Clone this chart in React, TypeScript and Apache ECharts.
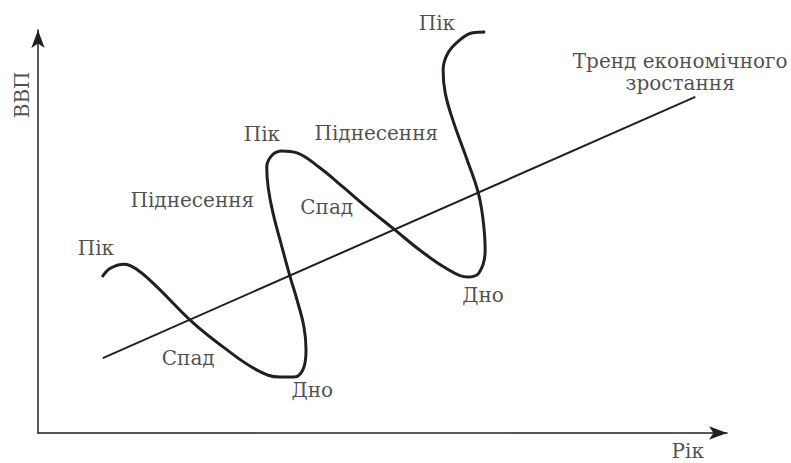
import React, { useEffect, useRef } from "react";
import * as echarts from "echarts";

// Business-cycle curve (time, GDP) in arbitrary units
const cycleX = [9.3, 10.5, 12.5, 14.5, 17.3, 22.4, 26.9, 31.8, 35.1, 37.2, 38.5, 38.9, 38.6, 37.6, 36.6, 35.4, 34.1, 33.4, 33.2, 34.0, 35.4, 37.6, 40.9, 44.3, 47.5, 51.8, 55.4, 59.4, 62.3, 64.0, 64.9, 64.6, 63.9, 62.3, 60.2, 59.1, 58.8, 59.5, 61.2, 63.1, 64.9];
const cycleY = [38.7, 40.9, 41.9, 40.4, 36.2, 27.5, 21.3, 15.6, 13.9, 13.9, 15.9, 20.6, 26.3, 33.0, 38.7, 46.2, 54.6, 61.0, 66.0, 69.0, 70.0, 69.5, 65.8, 61.0, 56.3, 50.4, 45.4, 40.7, 38.7, 39.7, 45.4, 52.9, 59.6, 67.7, 77.7, 84.4, 90.1, 94.3, 97.5, 99.3, 99.5];

// Economic growth trend line
const trendX = [9.4, 95.4];
const trendY = [18.6, 83.4];

// Phase labels and their anchor points
const labelTexts = ["Пік", "Спад", "Дно", "Піднесення", "Пік", "Спад", "Піднесення", "Пік", "Дно", "Тренд економічного\nзростання"];
const labelX = [8.4, 21.8, 39.8, 22.4, 32.5, 41.9, 49.1, 57.9, 64.6, 93.2];
const labelY = [45.9, 18.6, 10.7, 57.8, 74.2, 56.1, 74.4, 101.7, 34.2, 89.6];

// Axis titles and their anchor points
const axisTitles = ["ВВП", "Рік"];
const axisTitleX = [-2.3, 94.3];
const axisTitleY = [83.9, -4.5];
const axisTitleRotate = [90, 0];

const FONT = "DejaVu Serif";
const INK = "#231f20";

export default function App() {
  const ref = useRef<HTMLDivElement>(null);
  useEffect(() => {
    if (!ref.current) return;
    const chart = echarts.init(ref.current, undefined, { renderer: "svg" });
    const cycle = cycleX.map((x, i) => [x, cycleY[i]]);
    const trend = trendX.map((x, i) => [x, trendY[i]]);
    const labels = labelTexts.map((t, i) => ({ value: [labelX[i], labelY[i]], label: { formatter: t } }));
    const titles = axisTitles.map((t, i) => ({
      value: [axisTitleX[i], axisTitleY[i]],
      label: { formatter: t, rotate: axisTitleRotate[i] },
    }));
    const labelStyle = {
      show: true,
      position: "inside",
      color: INK,
      fontFamily: FONT,
      fontSize: 20,
      lineHeight: 22,
      align: "center",
      verticalAlign: "middle",
    };
    const axisBase = {
      type: "value",
      min: 0,
      max: 100,
      axisLine: { show: true, symbol: ["none", "arrow"], symbolSize: [10, 18], lineStyle: { color: INK, width: 1.5 } },
      axisTick: { show: false },
      axisLabel: { show: false },
      splitLine: { show: false },
    };
    chart.setOption({
      animation: false,
      backgroundColor: "#ffffff",
      textStyle: { fontFamily: FONT },
      grid: { left: 38, right: 64, top: 30, bottom: 30 },
      xAxis: axisBase,
      yAxis: axisBase,
      series: [
        {
          type: "line",
          data: trend,
          symbol: "none",
          lineStyle: { color: INK, width: 2 },
        },
        {
          type: "line",
          data: cycle,
          symbol: "none",
          smooth: 0.4,
          lineStyle: { color: INK, width: 3 },
        },
        {
          type: "scatter",
          data: labels,
          symbolSize: 0,
          clip: false,
          label: labelStyle,
        },
        {
          type: "scatter",
          data: titles,
          symbolSize: 0,
          clip: false,
          label: labelStyle,
        },
      ],
    });
    return () => chart.dispose();
  }, []);
  return <div ref={ref} style={{ position: "absolute", left: 0, top: 0, width: 791, height: 463 }} />;
}
